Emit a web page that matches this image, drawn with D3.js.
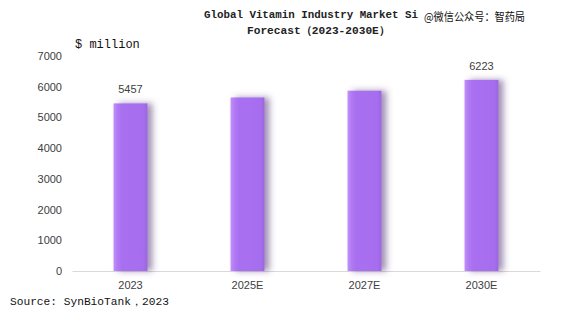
<!DOCTYPE html>
<html><head><meta charset="utf-8">
<script src="https://cdn.jsdelivr.net/npm/d3@7"></script>
<style>
html,body{margin:0;padding:0;background:#fff;}
svg{display:block;}
</style></head>
<body>
<script>
const categories = ["2023", "2025E", "2027E", "2030E"];
const values = [5457, 5650, 5870, 6223];
const valueLabels = ["5457", "", "", "6223"];
const yTicks = [0, 1000, 2000, 3000, 4000, 5000, 6000, 7000];
const titleLines = ["Global Vitamin Industry Market Si", "Forecast（2023-2030E）"];
const unitLabel = "$ million";
const sourceText = "Source: SynBioTank，2023";
const watermark = "@微信公众号：智药局";

const W = 563, H = 326;
const svg = d3.select("body").append("svg").attr("width", W).attr("height", H);

const defs = svg.append("defs");
const grad = defs.append("linearGradient").attr("id", "barGrad").attr("x1", 0).attr("x2", 1).attr("y1", 0).attr("y2", 0);
grad.append("stop").attr("offset", "0%").attr("stop-color", "#c290fa");
grad.append("stop").attr("offset", "12%").attr("stop-color", "#b07af3");
grad.append("stop").attr("offset", "25%").attr("stop-color", "#a86ff0");
grad.append("stop").attr("offset", "88%").attr("stop-color", "#a66eee");
grad.append("stop").attr("offset", "100%").attr("stop-color", "#9a66de");
const f = defs.append("filter").attr("id", "shadow").attr("x", "-20%").attr("y", "-20%").attr("width", "160%").attr("height", "140%");
f.append("feDropShadow").attr("dx", 5).attr("dy", 0).attr("stdDeviation", 3)
  .attr("flood-color", "#5a3a7a").attr("flood-opacity", 0.55);

const x = d3.scaleBand().domain(categories).range([72, 540]).paddingInner(0.71).paddingOuter(0.355);
const y = d3.scaleLinear().domain([0, 7000]).range([271, 56]);

// y axis labels
const yAxis = d3.axisLeft(y).tickValues(yTicks).tickSize(0).tickPadding(0).tickFormat(d3.format("d"));
const yg = svg.append("g").attr("transform", "translate(62,0)").call(yAxis);
yg.select(".domain").remove();
yg.selectAll("text").attr("fill", "#404040").attr("font-family", "Liberation Sans, Arial, sans-serif").attr("font-size", 11);

// x axis
const xAxis = d3.axisBottom(x).tickSize(0).tickPadding(10);
const xg = svg.append("g").attr("transform", "translate(0,271)").call(xAxis);
xg.select(".domain").attr("stroke", "#d9d9d9").attr("stroke-width", 1);
xg.selectAll("text").attr("fill", "#404040").attr("font-family", "Liberation Sans, Arial, sans-serif").attr("font-size", 11);

// bars
svg.append("g").selectAll("rect").data(values).join("rect")
  .attr("x", (d, i) => x(categories[i]))
  .attr("y", d => y(d))
  .attr("width", x.bandwidth())
  .attr("height", d => y(0) - y(d))
  .attr("fill", "url(#barGrad)")
  .attr("filter", "url(#shadow)");

// value labels
svg.append("g").selectAll("text").data(values).join("text")
  .attr("x", (d, i) => x(categories[i]) + x.bandwidth() / 2)
  .attr("y", d => y(d) - 10)
  .attr("text-anchor", "middle")
  .attr("fill", "#404040")
  .attr("font-family", "Liberation Sans, Arial, sans-serif")
  .attr("font-size", 11)
  .text((d, i) => valueLabels[i]);

// title
const titleX = [204, 247];
const titleLen = [214, 143];
svg.append("g").selectAll("text").data(titleLines).join("text")
  .attr("x", (d, i) => titleX[i]).attr("y", (d, i) => 18 + i * 16)
  .attr("textLength", (d, i) => titleLen[i])
  .attr("lengthAdjust", "spacingAndGlyphs")
  .attr("font-family", "Liberation Mono, monospace")
  .attr("font-weight", "bold")
  .attr("font-size", 11)
  .attr("fill", "#222")
  .text(d => d);

// watermark
svg.append("text").attr("x", 424).attr("y", 21)
  .attr("textLength", 101)
  .attr("lengthAdjust", "spacingAndGlyphs")
  .attr("font-family", "Noto Sans CJK SC, sans-serif")
  .attr("font-size", 11)
  .attr("fill", "#111")
  .text(watermark);

// unit
svg.append("text").attr("x", 75).attr("y", 48)
  .attr("font-family", "Liberation Mono, monospace")
  .attr("font-size", 12)
  .attr("fill", "#111")
  .text(unitLabel);

// source
svg.append("text").attr("x", 10).attr("y", 305)
  .attr("textLength", 159)
  .attr("lengthAdjust", "spacingAndGlyphs")
  .attr("font-family", "Liberation Mono, monospace")
  .attr("font-size", 11)
  .attr("fill", "#111")
  .text(sourceText);
</script>
</body></html>
